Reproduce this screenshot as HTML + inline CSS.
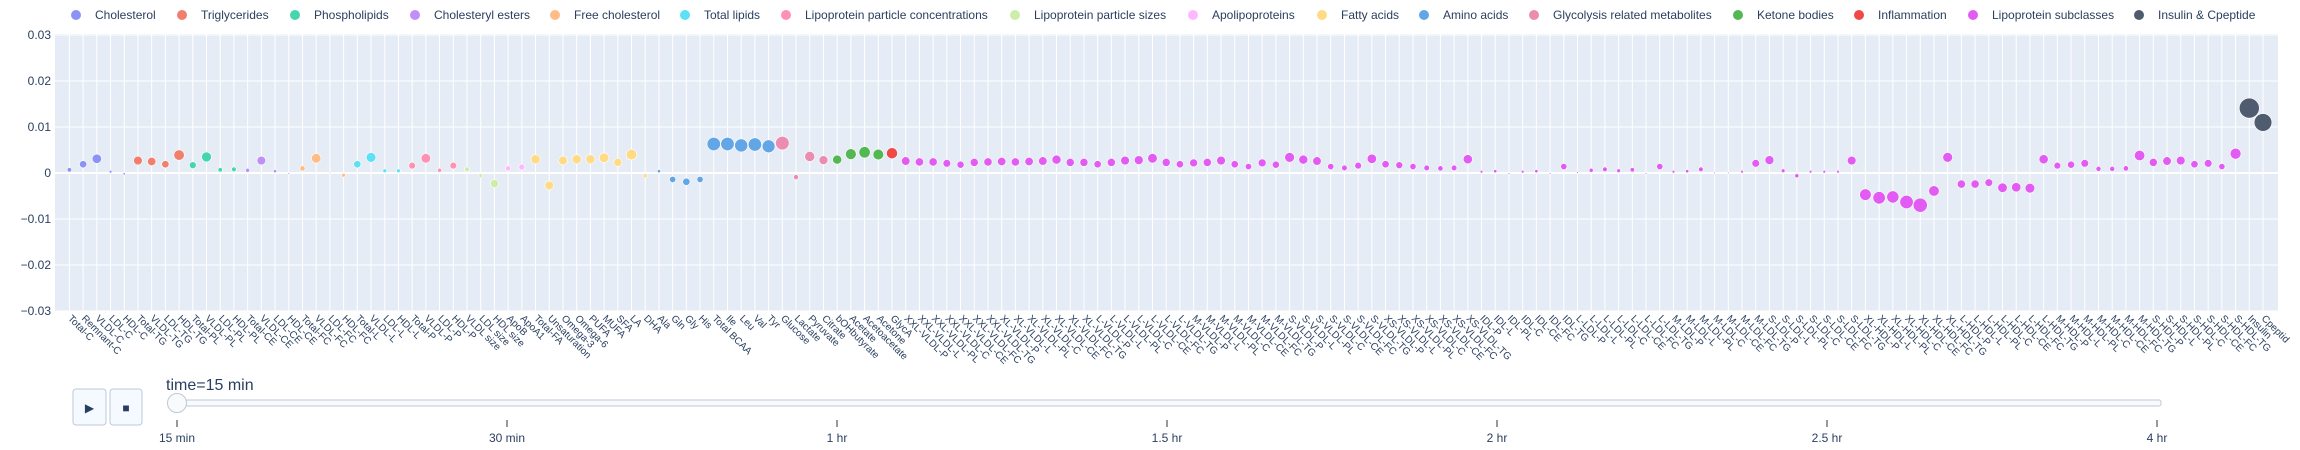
<!DOCTYPE html>
<html><head><meta charset="utf-8"><style>
html,body{margin:0;padding:0;background:#fff;}
svg{display:block;font-family:"Liberation Sans",sans-serif;}
</style></head><body>
<svg id="chart" width="2300" height="450" viewBox="0 0 2300 450" xmlns="http://www.w3.org/2000/svg">
<rect x="0" y="0" width="2300" height="450" fill="#fff"/>
<rect x="55" y="34" width="2223" height="277" fill="#e5ecf6"/>
<g id="grid"></g>
<g id="marks"></g>
<g id="yaxis"></g>
<g id="xaxis"></g>
<g id="legend"></g>
<g id="slider">
  <rect x="73" y="389" width="33" height="36" rx="3" fill="#f4faff" stroke="#bec8d9"/>
  <text x="89.5" y="412" font-size="12" text-anchor="middle" fill="#2a3f5f">▶</text>
  <rect x="110" y="389" width="32" height="36" rx="3" fill="#f4faff" stroke="#bec8d9"/>
  <text x="126" y="412" font-size="12" text-anchor="middle" fill="#2a3f5f">■</text>
  <text x="166" y="390" font-size="16" fill="#2a3f5f">time=15 min</text>
  <rect x="172" y="400" width="1989" height="6" rx="2" fill="#f8fafc" stroke="#bec8d9"/>
  <g id="sticks"></g>
  <circle cx="177" cy="403" r="9.5" fill="#f8fafc" stroke="#bec8d9"/>
</g>
</svg>
<script>
const groupNames = ["Cholesterol","Triglycerides","Phospholipids","Cholesteryl esters","Free cholesterol","Total lipids","Lipoprotein particle concentrations","Lipoprotein particle sizes","Apolipoproteins","Fatty acids","Amino acids","Glycolysis related metabolites","Ketone bodies","Inflammation","Lipoprotein subclasses","Insulin & Cpeptide"];
const groupColors = ["#8c93f7","#f07f6c","#45d6ad","#c08ff8","#ffbc87","#5ee0f6","#ff92b2","#cceea8","#ffb8ff","#fedb84","#63a6e6","#ea8db0","#53b853","#f04848","#e25cf3","#4f5b6e"];
const groupCounts = [5,4,4,4,4,4,4,3,2,9,9,4,4,1,98,2];
const legendX = [76,182,295,415,555,685,786,1015,1193,1322,1424,1534,1738,1859,1973,2139];
const subclassPrefixes = ["XXL-VLDL","XL-VLDL","L-VLDL","M-VLDL","S-VLDL","XS-VLDL","IDL","L-LDL","M-LDL","S-LDL","XL-HDL","L-HDL","M-HDL","S-HDL"];
const subclassSuffixes = ["P","L","PL","C","CE","FC","TG"];
const baseCategories = ["Total-C","Remnant-C","VLDL-C","LDL-C","HDL-C","Total-TG","VLDL-TG","LDL-TG","HDL-TG","Total-PL","VLDL-PL","LDL-PL","HDL-PL","Total-CE","VLDL-CE","LDL-CE","HDL-CE","Total-FC","VLDL-FC","LDL-FC","HDL-FC","Total-L","VLDL-L","LDL-L","HDL-L","Total-P","VLDL-P","LDL-P","HDL-P","VLDL size","LDL size","HDL size","ApoB","ApoA1","Total-FA","Unsaturation","Omega-3","Omega-6","PUFA","MUFA","SFA","LA","DHA","Ala","Gln","Gly","His","Total BCAA","Ile","Leu","Val","Tyr","Glucose","Lactate","Pyruvate","Citrate","bOHbutyrate","Acetate","Acetoacetate","Acetone","GlycA"];
const tailCategories = ["Insulin","Cpeptid"];
const values = [
0.0007,0.0019,0.0031,0.0003,-0.0002,
0.0027,0.0025,0.0019,0.0039,
0.0017,0.0035,0.0007,0.0008,
0.0006,0.0027,0.0004,-0.0001,
0.001,0.0032,0.00005,-0.0005,
0.0019,0.0034,0.0005,0.0005,
0.0016,0.0032,0.0006,0.0016,
0.0008,-0.0006,-0.0023,
0.001,0.0013,
0.003,-0.0027,0.0027,0.003,0.003,0.0033,0.0023,0.004,-0.0006,
0.0004,-0.0014,-0.0019,-0.0014,0.0063,0.0063,0.006,0.0062,0.0058,
0.0065,-0.0009,0.0036,0.0028,
0.0029,0.0041,0.0045,0.004,
0.0043,
0.0026,0.0024,0.0024,0.0021,0.0018,0.0023,0.0024,
0.0025,0.0024,0.0025,0.0026,0.0029,0.0023,0.0023,
0.0019,0.0023,0.0027,0.0028,0.0032,0.0023,0.0019,
0.0022,0.0023,0.0027,0.0019,0.0014,0.0022,0.0018,
0.0034,0.0029,0.0026,0.0014,0.0011,0.0016,0.0031,
0.0019,0.0017,0.0014,0.0011,0.001,0.0011,0.003,
0.0003,0.0004,-0.0001,0.0003,0.0004,-0.0001,0.0014,
0.0001,0.0006,0.0008,0.0005,0.0007,-0.0001,0.0014,
0.0003,0.0004,0.0008,0.00002,0.00002,0.0003,0.0021,
0.0028,0.0005,-0.0006,0.0003,0.0003,0.0003,0.0027,
-0.0047,-0.0054,-0.0052,-0.0063,-0.007,-0.0039,0.0034,
-0.0024,-0.0024,-0.0021,-0.0032,-0.0031,-0.0033,0.003,
0.0016,0.0018,0.0021,0.0009,0.0009,0.001,0.0038,
0.0023,0.0026,0.0027,0.0019,0.0021,0.0014,0.0042,
0.0141,0.011];
const yTicks = [0.03,0.02,0.01,0,-0.01,-0.02,-0.03];
const yTickLabels = ["0.03","0.02","0.01","0","−0.01","−0.02","−0.03"];
const sliderSteps = ["15 min","30 min","1 hr","1.5 hr","2 hr","2.5 hr","4 hr"];

const NS="http://www.w3.org/2000/svg";
function mk(tag, attrs, parent){const e=document.createElementNS(NS,tag);for(const k in attrs)e.setAttribute(k,attrs[k]);parent.appendChild(e);return e;}
const categories = baseCategories.slice();
subclassPrefixes.forEach(p=>subclassSuffixes.forEach(s=>categories.push(p+"-"+s)));
tailCategories.forEach(c=>categories.push(c));
const groupOf=[];groupCounts.forEach((c,g)=>{for(let i=0;i<c;i++)groupOf.push(g);});
const X0=69.4, DX=13.71, Y0=173, YK=4600;
function xScale(i){return X0+i*DX;}
function yScale(v){return Y0-v*YK;}
function rScale(v){return Math.max(0.8,84.5*Math.sqrt(Math.abs(v)));}

const grid=document.getElementById('grid');
categories.forEach((c,i)=>{
  const l=mk('line',{x1:xScale(i),x2:xScale(i),y1:34,y2:311,stroke:"#fff","stroke-width":1},grid);
  
  
});
const ya=document.getElementById('yaxis');
yTicks.forEach((t,i)=>{
  const gl=mk('line',{x1:55,x2:2278,y1:yScale(t),y2:yScale(t),stroke:"#fff","stroke-width":t===0?2:1},grid);
  
  
  const tx=mk('text',{x:51,y:yScale(t)+4,"font-size":12,fill:"#2a3f5f","text-anchor":"end"},ya);
  tx.textContent=yTickLabels[i];
  
  
});
const marks=document.getElementById('marks');
values.forEach((v,i)=>{
  const c=mk('circle',{cx:xScale(i),cy:yScale(v),r:rScale(v),fill:groupColors[groupOf[i]],stroke:"#fff","stroke-width":0.6},marks);
  
  
});
const xa=document.getElementById('xaxis');
categories.forEach((c,i)=>{
  const x=xScale(i)-2, y=319;
  const t=mk('text',{x:x,y:y,"font-size":10,fill:"#2a3f5f",transform:`rotate(45 ${x} ${y})`},xa);
  t.textContent=c;
  
  
});
const lg=document.getElementById('legend');
groupNames.forEach((n,i)=>{
  const g=mk('g',{},lg);
  
  
  mk('circle',{cx:legendX[i],cy:15,r:5,fill:groupColors[i]},g);
  const t=mk('text',{x:legendX[i]+19,y:19,"font-size":12,fill:"#2a3f5f"},g);
  t.textContent=n;
});
const st=document.getElementById('sticks');
sliderSteps.forEach((s,i)=>{
  const x=177+i*330;
  const l=mk('line',{x1:x,x2:x,y1:420,y2:427,stroke:"#333","stroke-width":1},st);
  
  
  const t=mk('text',{x:x,y:442,"font-size":12,fill:"#2a3f5f","text-anchor":"middle"},st);
  t.textContent=s;
  
  
});
</script>
</body></html>
